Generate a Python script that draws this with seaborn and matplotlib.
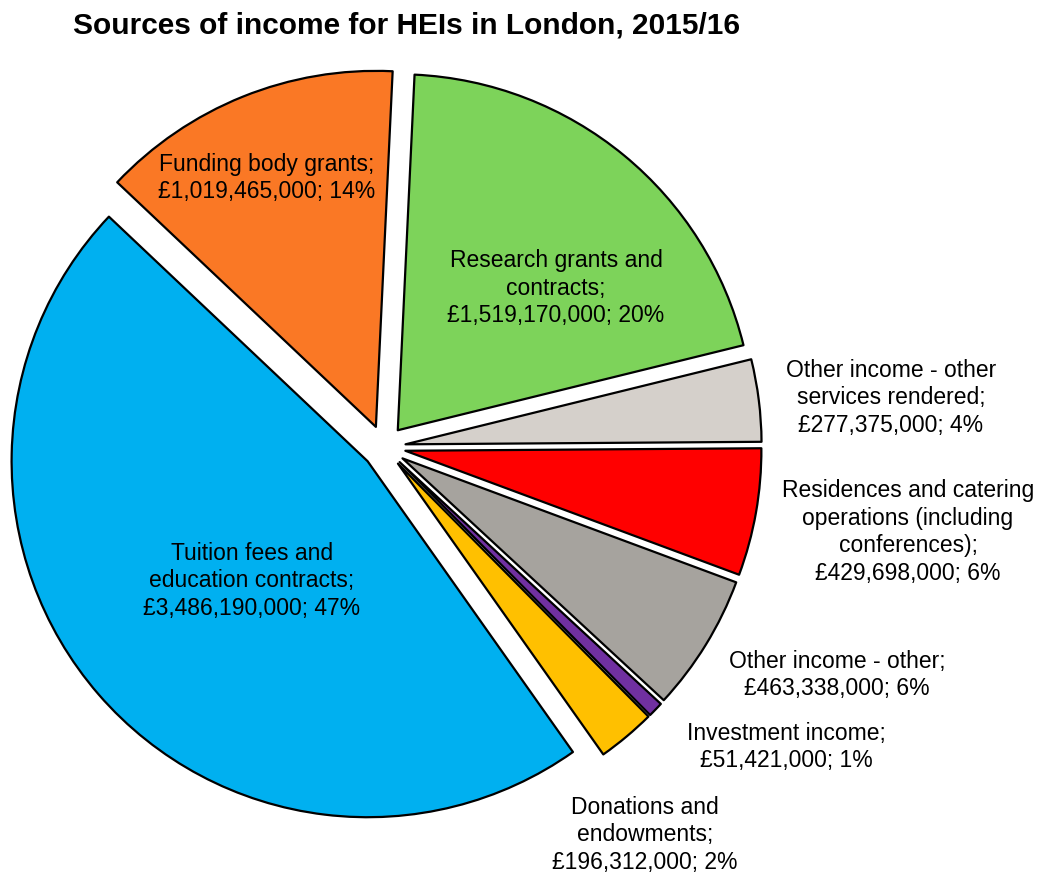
import numpy as np
import matplotlib
matplotlib.use("Agg")
import matplotlib.pyplot as plt
import seaborn as sns

# Income sources, in clockwise order starting just right of 12 o'clock
categories = [
    "Research grants and\ncontracts",
    "Other income - other\nservices rendered",
    "Residences and catering\noperations (including\nconferences)",
    "Other income - other",
    "Investment income",
    "Donations and\nendowments",
    "Tuition fees and\neducation contracts",
    "Funding body grants",
]
income_gbp = [1519170000, 277375000, 429698000, 463338000,
              51421000, 196312000, 3486190000, 1019465000]
percent_labels = [20, 4, 6, 6, 1, 2, 47, 14]
slice_colours = ["#7DD35A", "#D5D0CB", "#FF0000", "#A6A39E",
                 "#7030A0", "#FFC000", "#00B0F0", "#FA7825"]

sns.set_theme(style="white")
plt.rcParams["font.family"] = ["Liberation Sans", "DejaVu Sans"]

W, H = 1042, 879
fig = plt.figure(figsize=(W / 100, H / 100), dpi=100)
ax = fig.add_axes([0, 0, 1, 1])

# pie geometry (pixel units of the canvas)
R = 356.0
cx, cy = 384.0, 448.0
gap = 21.7

palette = sns.color_palette(slice_colours)
wedges, _ = ax.pie(
    income_gbp,
    colors=palette,
    startangle=87.3,
    counterclock=False,
    explode=[gap / R] * len(income_gbp),
    radius=1.0,
    wedgeprops=dict(edgecolor="black", linewidth=1.6, joinstyle="round"),
)
ax.set_xlim(-cx / R, (W - cx) / R)
ax.set_ylim(-(H - cy) / R, cy / R)
ax.set_aspect("equal")
ax.axis("off")


def fmt(v, p, name):
    return f"{name};\n£{v:,}; {p}%"


# label anchor points in canvas pixels (x, y from top)
label_pos = [
    (556, 288),
    (891, 398),
    (908, 532),
    (837, 675),
    (786, 747),
    (645, 835),
    (252, 581),
    (267, 178),
]
for name, v, p, (px, py) in zip(categories, income_gbp, percent_labels, label_pos):
    ax.text((px - cx) / R, (cy - py) / R, fmt(v, p, name),
            ha="center", va="center", fontsize=16.5, color="black",
            linespacing=1.27)

fig.text(407 / W, 1 - 26 / H, "Sources of income for HEIs in London, 2015/16",
         ha="center", va="center", fontsize=21.5, fontweight="bold", color="black")

fig.savefig("out.png", dpi=100, facecolor="white")
